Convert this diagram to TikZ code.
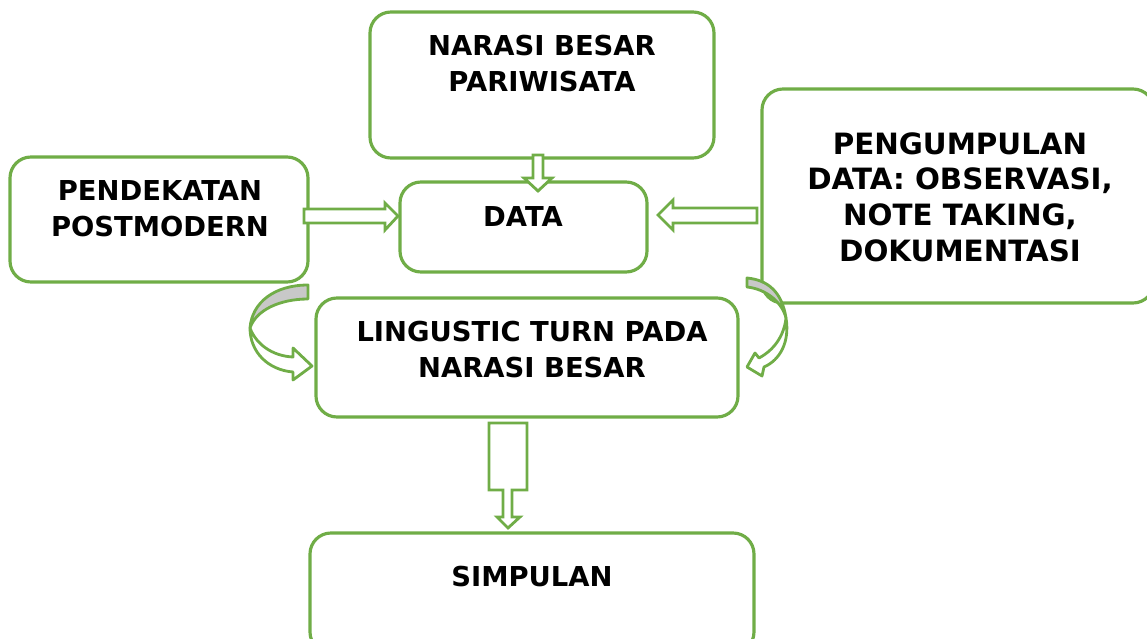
\documentclass[tikz,border=0pt]{standalone}
\usepackage{fontspec}
\setmainfont{DejaVu Sans}
\definecolor{grn}{RGB}{112,173,71}
\definecolor{gry}{RGB}{200,200,200}
\tikzset{
  box/.style={draw=grn, line width=1.8pt, rounded corners=0.42cm, fill=white, inner sep=0pt},
  txt/.style={font=\bfseries\fontsize{15.6}{20.5}\selectfont, align=center, inner sep=0pt},
  blk/.style={draw=grn, line width=1.6pt, fill=white, line join=miter},
  crv/.style={draw=grn, line width=1.6pt, line join=round},
}
\begin{document}
\begin{tikzpicture}[x=0.02cm,y=-0.02cm]
\useasboundingbox (0,0) rectangle (1147,639);
\clip (0,0) rectangle (1147,639);
% boxes
\node[box, minimum width=344*0.02cm, minimum height=146*0.02cm] (narasi) at (542,85) {};
\node[box, minimum width=298*0.02cm, minimum height=125*0.02cm] (pend) at (159,219.5) {};
\node[box, minimum width=247*0.02cm, minimum height=90*0.02cm] (data) at (523.5,227) {};
\node[box, minimum width=392*0.02cm, minimum height=214*0.02cm] (peng) at (958,196) {};
\node[box, minimum width=422*0.02cm, minimum height=119*0.02cm] (ling) at (527,357.5) {};
\node[box, minimum width=444*0.02cm, minimum height=120*0.02cm] (simp) at (532,593) {};
% texts
\node[txt] (tnarasi) at (542,64) {NARASI BESAR\\PARIWISATA};
\node[txt] (tpend) at (160,208.5) {PENDEKATAN\\POSTMODERN};
\node[txt] (tdata) at (523,217) {DATA};
\node[txt, font=\bfseries\fontsize{16.7}{20.3}\selectfont] (tpeng) at (960,197) {PENGUMPULAN\\DATA: OBSERVASI,\\NOTE TAKING,\\DOKUMENTASI};
\node[txt] (tling) at (532,349.5) {LINGUSTIC TURN PADA\\NARASI BESAR};
\node[txt] (tsimp) at (532,577) {SIMPULAN};
% block arrows
\draw[blk] (533,155) -- (543,155) -- (543,178) -- (552,178) -- (538,191) -- (524,178) -- (533,178) -- cycle;
\draw[blk] (304,209) -- (385,209) -- (385,203) -- (398,216) -- (385,230) -- (385,223) -- (304,223) -- cycle;
\draw[blk] (757,208) -- (673,208) -- (673,200) -- (658,215) -- (673,230) -- (673,223) -- (757,223) -- cycle;
\draw[blk] (489,423) -- (527,423) -- (527,490) -- (512,490) -- (512,517) -- (520,517) -- (508,528) -- (497,517) -- (503,517) -- (503,490) -- (489,490) -- cycle;
% curved arrow left
\draw[crv, fill=gry] (308,285) .. controls (275,285) and (252,302) .. (250,328)
   .. controls (256,310) and (280,299) .. (308,299) -- cycle;
\draw[crv, fill=white] (250,328) .. controls (250,352) and (268,370) .. (293,372)
   -- (293,380) -- (312,366) -- (293,348) -- (293,357)
   .. controls (272,356) and (256,344) .. (250,328) -- cycle;
% curved arrow right
\draw[crv, fill=gry] (747,278) .. controls (768,280) and (782,292) .. (786,318)
   .. controls (782,302) and (766,289) .. (747,287) -- cycle;
\draw[crv, fill=white] (786,318) .. controls (790,342) and (780,360) .. (764,367)
   -- (762,376) -- (747,367) -- (755,353) -- (759,358)
   .. controls (774,350) and (784,336) .. (786,318) -- cycle;
\end{tikzpicture}
\end{document}
